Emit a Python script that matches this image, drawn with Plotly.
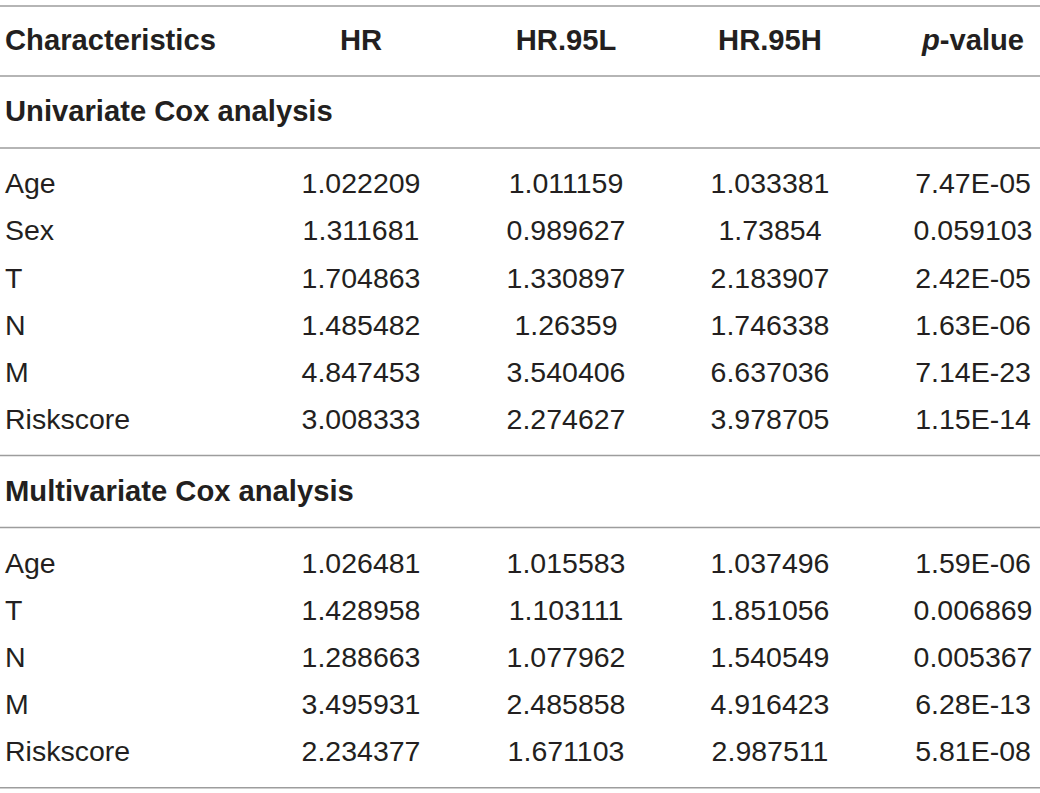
import plotly.graph_objects as go

# table content
headers = ["Characteristics", "HR", "HR.95L", "HR.95H", "<i>p</i>-value"]

uni_title = "Univariate Cox analysis"
uni_vars = ["Age", "Sex", "T", "N", "M", "Riskscore"]
uni_hr = ["1.022209", "1.311681", "1.704863", "1.485482", "4.847453", "3.008333"]
uni_low = ["1.011159", "0.989627", "1.330897", "1.26359", "3.540406", "2.274627"]
uni_high = ["1.033381", "1.73854", "2.183907", "1.746338", "6.637036", "3.978705"]
uni_p = ["7.47E-05", "0.059103", "2.42E-05", "1.63E-06", "7.14E-23", "1.15E-14"]

multi_title = "Multivariate Cox analysis"
multi_vars = ["Age", "T", "N", "M", "Riskscore"]
multi_hr = ["1.026481", "1.428958", "1.288663", "3.495931", "2.234377"]
multi_low = ["1.015583", "1.103111", "1.077962", "2.485858", "1.671103"]
multi_high = ["1.037496", "1.851056", "1.540549", "4.916423", "2.987511"]
multi_p = ["1.59E-06", "0.006869", "0.005367", "6.28E-13", "5.81E-08"]

W, H = 1040, 793
FONT = "Liberation Sans, Arial, Helvetica, sans-serif"
TXT = "#231f20"
RULE = "#9d9d9d"
SIZE = 28.5       # body text
BOLD_SIZE = 29.2  # header / section titles

# column anchors (left col is left-aligned, others centered)
left_x = 5
col_x = [361, 566, 770, 973]

# vertical layout
rules = []
cursor = 6
rules.append(cursor)
header_y = cursor + 37
cursor += 70
rules.append(cursor)

blocks = []
for title, names, cols in [
    (uni_title, uni_vars, [uni_hr, uni_low, uni_high, uni_p]),
    (multi_title, multi_vars, [multi_hr, multi_low, multi_high, multi_p]),
]:
    title_y = cursor + 38
    cursor += 72
    rules.append(cursor)
    row_y = [cursor + 38 + 47.2 * i for i in range(len(names))]
    cursor = row_y[-1] + 33.5
    rules.append(cursor)
    blocks.append((title, title_y, names, cols, row_y))


def text_trace(xs, ys, labels, pos, size=SIZE):
    return go.Scatter(x=xs, y=ys, mode="text", text=labels, textposition=pos,
                      textfont=dict(family=FONT, size=size, color=TXT),
                      cliponaxis=False, hoverinfo="skip", showlegend=False)


fig = go.Figure()

# header
fig.add_trace(text_trace([left_x], [header_y], ["<b>" + headers[0] + "</b>"], "middle right", BOLD_SIZE))
fig.add_trace(text_trace(col_x, [header_y] * 4, ["<b>" + h + "</b>" for h in headers[1:]],
                         "middle center", BOLD_SIZE))

for title, title_y, names, cols, row_y in blocks:
    fig.add_trace(text_trace([left_x], [title_y], ["<b>" + title + "</b>"], "middle right", BOLD_SIZE))
    fig.add_trace(text_trace([left_x] * len(names), row_y, names, "middle right"))
    for cx, vals in zip(col_x, cols):
        fig.add_trace(text_trace([cx] * len(vals), row_y, vals, "middle center"))

for ry in rules:
    fig.add_shape(type="line", xref="x", yref="y", x0=0, x1=W, y0=ry, y1=ry,
                  line=dict(color=RULE, width=1.6))

fig.update_layout(
    width=W, height=H,
    margin=dict(l=0, r=0, t=0, b=0),
    paper_bgcolor="white", plot_bgcolor="white",
    xaxis=dict(range=[0, W], visible=False, fixedrange=True),
    yaxis=dict(range=[H, 0], visible=False, fixedrange=True),
)

fig.write_html("out.html", config={"displayModeBar": False},
               post_script="document.body.style.margin='0';document.body.style.overflow='hidden';")
